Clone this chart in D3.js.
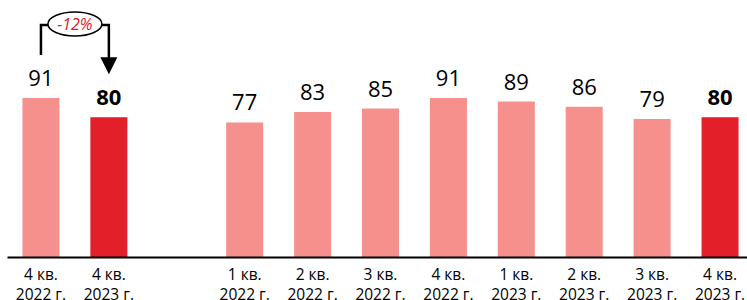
<!DOCTYPE html>
<html>
<head>
<meta charset="utf-8">
<script src="https://cdn.jsdelivr.net/npm/d3@7"></script>
<style>
  body { margin: 0; background: #fff; }
  svg { display: block; font-family: "Open Sans", sans-serif; }
</style>
</head>
<body>
<div id="chart"></div>
<script>
// chart data
const quarters = ["4 кв.", "4 кв.", "1 кв.", "2 кв.", "3 кв.", "4 кв.", "1 кв.", "2 кв.", "3 кв.", "4 кв."]
const years = ["2022 г.", "2023 г.", "2022 г.", "2022 г.", "2022 г.", "2022 г.", "2023 г.", "2023 г.", "2023 г.", "2023 г."]
const values = [91, 80, 77, 83, 85, 91, 89, 86, 79, 80]
const highlight = [false, true, false, false, false, false, false, false, false, true]
const changeLabel = "-12%"   // from first bar to second bar

const width = 747
const height = 300
const baseY = 257

// ids with an empty slot between the comparison pair and the timeline
const ids = values.map((d, i) => "c" + i)
const domain = [ids[0], ids[1], "gap"].concat(ids.slice(2))

const x = d3.scaleBand()
	.domain(domain)
	.range([7, 754])
	.paddingInner(0.455)
	.paddingOuter(0.2275)

const y = d3.scaleLinear()
	.domain([0, 100])
	.range([baseY, baseY - 174.7])

const svg = d3.select("#chart")
	.append("svg")
	.attr("width", width)
	.attr("height", height)

const data = values.map((v, i) => ({
	id: ids[i], value: v, q: quarters[i], yr: years[i], hi: highlight[i]
}))

svg.append("g")
	.selectAll("rect")
	.data(data)
	.join("rect")
	.attr("x", d => x(d.id))
	.attr("y", d => y(d.value))
	.attr("width", x.bandwidth())
	.attr("height", d => y(0) - y(d.value))
	.attr("fill", d => d.hi ? "#e3202a" : "#f5908c")

// value labels
svg.append("g")
	.selectAll("text")
	.data(data)
	.join("text")
	.attr("x", d => x(d.id) + x.bandwidth() / 2)
	.attr("y", d => y(d.value) - 12)
	.attr("text-anchor", "middle")
	.attr("font-size", 22)
	.attr("font-weight", d => d.hi ? "bold" : null)
	.attr("fill", "#000")
	.text(d => d.value)

// axis
const xAxis = g => g
	.attr("transform", `translate(0,${baseY})`)
	.call(d3.axisBottom(x).tickValues(ids).tickSize(0).tickFormat(""))
	.call(g => g.select(".domain").attr("stroke", "#000").attr("stroke-width", 2.2))

const axisG = svg.append("g").call(xAxis)

axisG.selectAll(".tick").each(function (id) {
	const d = data.find(e => e.id === id)
	const t = d3.select(this).select("text")
		.attr("y", 0)
		.attr("dy", null)
		.attr("font-family", "Open Sans, sans-serif")
		.attr("font-size", 15.5)
		.attr("fill", "#000")
	t.append("tspan").attr("x", 0).attr("y", 23).text(d.q)
	t.append("tspan").attr("x", 0).attr("y", 43).text(d.yr)
})

// change annotation between the first two bars
const x0 = x(ids[0]) + x.bandwidth() / 2
const x1 = x(ids[1]) + x.bandwidth() / 2
const topY = 25
const cx = (x0 + x1) / 2
const ann = svg.append("g")

ann.append("path")
	.attr("fill", "none")
	.attr("stroke", "#000")
	.attr("stroke-width", 2.5)
	.attr("d", `M${x0},${y(values[0]) - 43} V${topY} H${x1} V${y(values[1]) - 59}`)

ann.append("path")
	.attr("fill", "#000")
	.attr("d", `M${x1 - 8.5},${y(values[1]) - 60} H${x1 + 8.5} L${x1},${y(values[1]) - 43} Z`)

ann.append("ellipse")
	.attr("cx", cx)
	.attr("cy", topY - 1)
	.attr("rx", 27)
	.attr("ry", 12)
	.attr("fill", "#fff")
	.attr("stroke", "#000")
	.attr("stroke-width", 1.5)

ann.append("text")
	.attr("x", cx)
	.attr("y", topY + 5)
	.attr("text-anchor", "middle")
	.attr("font-size", 16)
	.attr("font-style", "italic")
	.attr("fill", "#e3202a")
	.text(changeLabel)
</script>
</body>
</html>
